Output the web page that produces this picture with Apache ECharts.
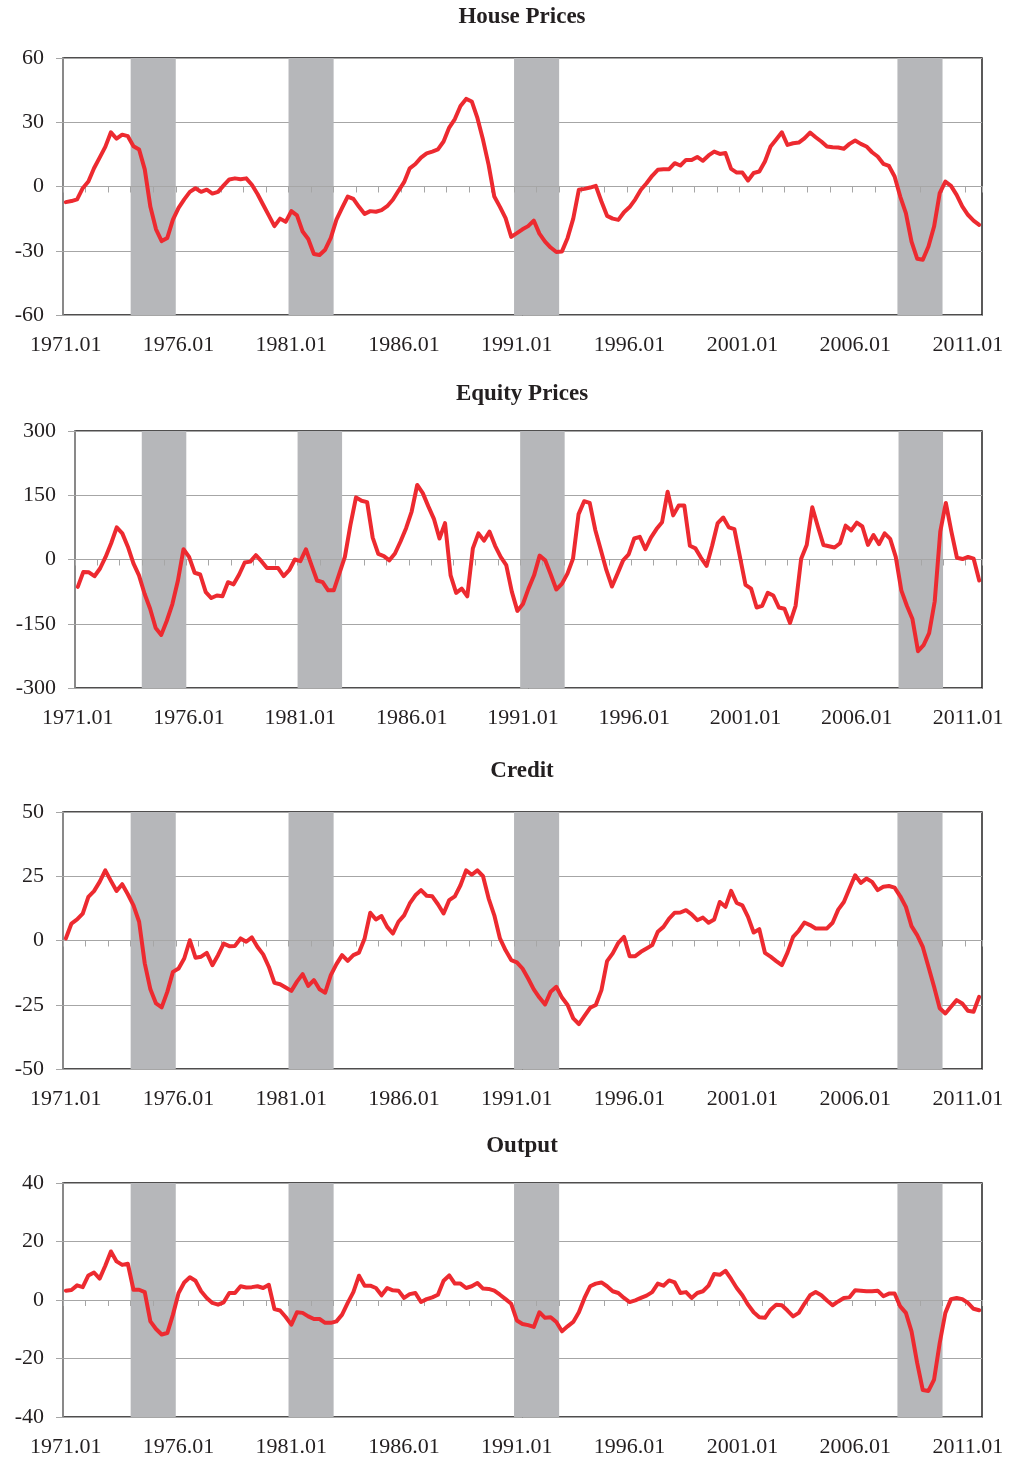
<!DOCTYPE html>
<html>
<head>
<meta charset="utf-8">
<title>House Prices, Equity Prices, Credit, Output</title>
<script src="https://cdn.jsdelivr.net/npm/echarts@6/dist/echarts.min.js"></script>
<style>
  html, body { margin: 0; padding: 0; background: #ffffff; }
  #chart { width: 1010px; height: 1460px; }
</style>
</head>
<body>
<div id="chart"></div>
<script>
// quarterly categories 1971.01 .. 2011.03
const quarters = []
for (let y = 1971; quarters.length < 163; y++) {
    for (let q = 1; q <= 4 && quarters.length < 163; q++) {
        quarters.push(y + '.0' + q)
    }
}

// shaded recession periods (first and last quarter)
const recessions = [
    ['1974.01', '1975.04'],
    ['1981.01', '1982.04'],
    ['1991.01', '1992.04'],
    ['2008.01', '2009.04']
]

const titles = ['House Prices', 'Equity Prices', 'Credit', 'Output']

const housePrices = [
    -7.3, -6.8, -6.0, -0.8, 2.3, 8.5, 13.5, 18.5, 25.3, 22.3,
    24.2, 23.5, 18.8, 17.3, 8, -9.5, -20, -25.5, -24, -15.5,
    -10, -6, -2.5, -0.8, -2.5, -1.5, -3.3, -2.5, 0.5, 3.3,
    3.8, 3.4, 3.8, 0.8, -3.5, -8.5, -13.5, -18.5, -15, -16.5,
    -11.5, -13.5, -21, -24.5, -31.5, -32, -29.5, -24, -15.5, -10,
    -4.7, -5.8, -9.5, -12.8, -11.5, -11.8, -11, -9.2, -6.2, -2,
    2, 8.5, 10.5, 13.5, 15.5, 16.3, 17.3, 21, 27.5, 31.5,
    37.6, 40.9, 39.7, 32, 21.8, 10, -4.7, -9.5, -14.8, -23.5,
    -21.8, -20, -18.5, -15.9, -22, -25.7, -28.5, -30.6, -30.3, -24,
    -15, -1.5, -1.1, -0.5, 0.3, -7, -13.7, -15, -15.6, -12,
    -9.6, -6, -1.5, 1.5, 5, 7.8, 8, 8.1, 10.9, 9.8,
    12.4, 12.4, 13.8, 12, 14.5, 16.3, 15.2, 15.6, 8.2, 6.5,
    6.5, 2.8, 6.3, 7, 11.7, 18.7, 22, 25.3, 19.4, 20.2,
    20.5, 22.5, 25.2, 23, 21, 18.7, 18.3, 18.2, 17.6, 19.9,
    21.5, 19.9, 18.7, 16, 14, 10.6, 9.6, 4.7, -4.7, -12.4,
    -25.7, -33.7, -34.2, -28, -18.7, -3.1, 2.3, 0.3, -3.9, -9.3,
    -13.2, -15.9, -17.9
]

const equityPrices = [
    -64, -29, -30, -39, -21, 6, 38, 75, 61, 30,
    -9, -37, -80, -115, -160, -176, -143, -104, -49, 24,
    6, -31, -35, -76, -90, -84, -86, -53, -58, -35,
    -7, -5, 10, -4, -20, -20, -20, -39, -25, 0,
    -4, 24, -13, -49, -53, -72, -72, -33, 6, 81,
    145, 137, 134, 51, 13, 8, -2, 14, 42, 73,
    112, 174, 155, 124, 95, 49, 85, -37, -78, -68,
    -86, 26, 61, 44, 65, 32, 6, -13, -75, -120,
    -104, -68, -37, 9, -2, -35, -70, -57, -33, 2,
    106, 136, 132, 69, 22, -25, -63, -33, -2, 12,
    49, 53, 24, 51, 71, 87, 158, 103, 126, 126,
    32, 26, 4, -15, 32, 85, 98, 75, 71, 6,
    -59, -68, -112, -108, -78, -84, -112, -115, -148, -108,
    2, 34, 122, 77, 34, 31, 28, 38, 79, 68,
    86, 77, 34, 57, 36, 61, 48, 6, -72, -108,
    -139, -214, -200, -172, -98, 65, 132, 65, 4, 1,
    6, 2, -49
]

const credit = [
    0.8, 6.6, 8.2, 10.5, 17, 19.2, 22.8, 27.3, 23.2, 19.3,
    21.9, 18, 13.7, 7.3, -8.9, -19, -24.5, -26, -20, -12.2,
    -10.9, -7, 0.1, -6.7, -6.3, -4.8, -9.6, -5.7, -1.2, -2.2,
    -2.1, 0.8, -0.5, 1.2, -2.5, -5.4, -10.2, -16.5, -17, -18.3,
    -19.6, -16, -13.1, -17.7, -15.4, -19, -20.3, -13.5, -9.2, -5.7,
    -7.9, -5.7, -4.7, 0.8, 10.8, 8.2, 9.5, 5.3, 2.7, 7.3,
    9.8, 14.4, 17.6, 19.6, 17.4, 17.2, 14.1, 10.5, 15.7, 17.2,
    21.5, 27.3, 25.6, 27.3, 25, 16.3, 9.8, 0.8, -3.8, -7.6,
    -8.5, -10.9, -14.8, -19, -22.2, -24.9, -19.9, -18, -22.2, -25.1,
    -30.3, -32.5, -29.3, -26.2, -25.1, -19.3, -8, -5, -0.9, 1.4,
    -6.1, -6.1, -4.4, -3.1, -1.8, 3.4, 5.3, 8.5, 10.8, 10.9,
    11.8, 10.2, 7.9, 8.9, 6.9, 8.2, 15, 13.1, 19.3, 14.6,
    13.7, 9.2, 3.1, 4.4, -4.8, -6.3, -8, -9.6, -4.7, 1.4,
    3.8, 7, 6, 4.7, 4.7, 4.7, 6.9, 12, 15, 20.2,
    25.4, 22.4, 24.1, 22.8, 19.6, 20.9, 21.2, 20.6, 17.2, 13.1,
    5.6, 2.1, -2.5, -10.2, -18, -26.4, -28.4, -25.8, -23.2, -24.5,
    -27.3, -27.7, -21.9
]

const output = [
    3.2, 3.4, 5, 4.4, 8.4, 9.4, 7.3, 11.7, 16.6, 13.2,
    12, 12.4, 3.5, 3.5, 2.7, -7.3, -9.9, -11.8, -11.3, -5,
    2.4, 6, 7.8, 6.6, 3, 0.7, -1, -1.6, -0.8, 2.4,
    2.4, 4.7, 4.3, 4.4, 4.7, 4.1, 5.2, -3.1, -3.6, -5.8,
    -8.4, -4.2, -4.4, -5.6, -6.5, -6.5, -7.8, -7.8, -7.3, -5,
    -1, 2.7, 8.3, 4.9, 4.9, 4.1, 1.6, 4.1, 3.3, 3.2,
    0.7, 2, 2.4, -0.7, 0.3, 0.9, 1.8, 6.6, 8.4, 5.6,
    5.6, 4.1, 4.7, 5.8, 3.9, 3.8, 3.2, 1.8, 0.3, -1.3,
    -7, -8.2, -8.6, -9.2, -4.2, -6.1, -5.9, -7.5, -10.7, -9,
    -7.5, -4.2, 0.7, 4.7, 5.6, 6, 4.7, 3, 2.4, 0.7,
    -0.7, -0.1, 0.7, 1.5, 2.7, 5.6, 4.9, 6.7, 6, 2.4,
    2.7, 0.7, 2.4, 3, 4.9, 8.9, 8.6, 10, 7.2, 4.1,
    1.6, -1.6, -4.2, -5.9, -6.1, -3.3, -1.6, -1.8, -3.6, -5.6,
    -4.4, -1.3, 1.6, 2.7, 1.6, -0.2, -1.8, -0.5, 0.7, 0.9,
    3.3, 3.2, 3, 3, 3.2, 1.3, 2.2, 2.2, -2.2, -4.4,
    -10.7, -21.5, -30.8, -31.1, -27.2, -14.7, -4.4, 0.3, 0.7, 0.3,
    -1, -3, -3.5
]

const seriesData = [housePrices, equityPrices, credit, output]
const yMin = [-60, -300, -50, -40]
const yMax = [60, 300, 50, 40]
const yStep = [30, 150, 25, 20]

// layout of the four panels (pixels)
const panels = [
    { left: 63, top: 58, width: 919, height: 257, titleTop: 6 },
    { left: 75, top: 431, width: 907, height: 257, titleTop: 383 },
    { left: 63, top: 812, width: 919, height: 257, titleTop: 760 },
    { left: 63, top: 1183, width: 919, height: 234, titleTop: 1135 }
]
const titleCenter = 522

const FONT = 'Liberation Serif'
const TEXT = '#231f20'
const GRIDLINE = '#a6a6a6'
const RED = '#ed2a30'
const BAND = '#b6b7ba'

const bandAreas = recessions.map(r => [
    { xAxis: quarters.indexOf(r[0]) },
    { xAxis: quarters.indexOf(r[1]) + 1 }
])

const grid = []
const xAxis = []
const yAxis = []
const series = []
const title = []

panels.forEach((p, k) => {
    grid.push({
        left: p.left, top: p.top, width: p.width, height: p.height,
        show: true, borderColor: '#161415', borderWidth: 1.4, backgroundColor: 'transparent'
    })
    title.push({
        text: titles[k],
        left: titleCenter,
        top: p.titleTop,
        textAlign: 'center',
        padding: 0,
        textStyle: { fontFamily: FONT, fontWeight: 'bold', fontSize: 23, color: TEXT }
    })
    // category axis with the year labels at the bottom
    xAxis.push({
        type: 'category',
        gridIndex: k,
        data: quarters,
        boundaryGap: true,
        position: 'bottom',
        axisLine: { show: false, onZero: false },
        axisTick: { show: false },
        splitLine: { show: false },
        axisLabel: {
            interval: 19,
            margin: 19,
            fontFamily: FONT, fontSize: 22, color: TEXT
        }
    })
    // quarter index axis: zero line with yearly ticks, and recession shading
    xAxis.push({
        type: 'value',
        gridIndex: k,
        min: 0,
        max: quarters.length,
        interval: 4,
        position: 'bottom',
        z: 3,
        axisLine: { show: true, onZero: true, lineStyle: { color: GRIDLINE, width: 1.2 } },
        axisTick: { show: true, length: 6, lineStyle: { color: GRIDLINE, width: 1 } },
        axisLabel: { show: false },
        splitLine: { show: false }
    })
    yAxis.push({
        type: 'value',
        gridIndex: k,
        min: yMin[k],
        max: yMax[k],
        interval: yStep[k],
        axisLine: { show: true, onZero: false, lineStyle: { color: '#9a9a9a', width: 1.5 } },
        axisTick: { show: true, length: 7, lineStyle: { color: GRIDLINE } },
        splitLine: { show: true, lineStyle: { color: GRIDLINE, width: 1 } },
        axisLabel: { margin: 19, fontFamily: FONT, fontSize: 22, color: TEXT }
    })
    series.push({
        type: 'line',
        xAxisIndex: 2 * k + 1,
        yAxisIndex: k,
        data: [],
        silent: true,
        z: 2,
        markArea: {
            silent: true,
            itemStyle: { color: BAND, opacity: 1 },
            data: bandAreas
        }
    })
    series.push({
        name: titles[k],
        type: 'line',
        xAxisIndex: 2 * k,
        yAxisIndex: k,
        data: seriesData[k],
        showSymbol: false,
        smooth: false,
        z: 10,
        lineStyle: { color: RED, width: 4, join: 'round', cap: 'round' },
        itemStyle: { color: RED }
    })
})

const chart = echarts.init(document.getElementById('chart'), null, { renderer: 'canvas' })
chart.setOption({
    animation: false,
    backgroundColor: '#ffffff',
    title,
    grid,
    xAxis,
    yAxis,
    series
})
</script>
</body>
</html>
